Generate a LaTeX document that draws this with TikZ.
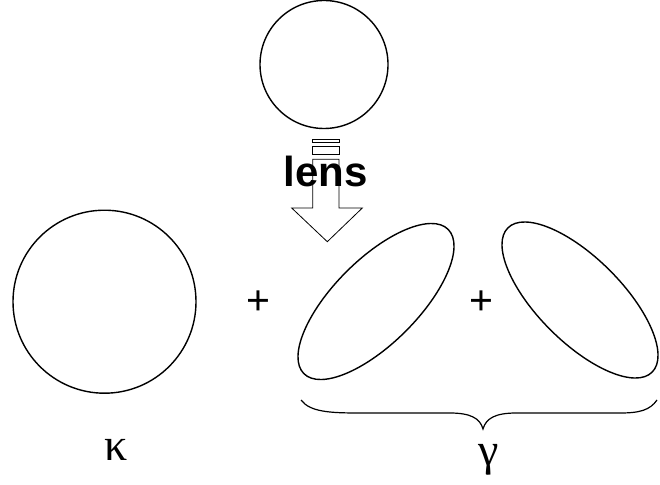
\documentclass[tikz,border=0pt]{standalone}
\usepackage{fontspec}
\setmainfont{Liberation Serif}
\newfontfamily\lensfont{Liberation Sans}
\usetikzlibrary{shapes.geometric}
\begin{document}
\begin{tikzpicture}[x=1pt,y=-1pt,
  shapeline/.style={draw=black,line width=1.4pt,inner sep=0pt},
  arrowline/.style={draw=black,line width=0.8pt},
  greek/.style={font=\fontsize{46}{46}\selectfont,inner sep=0pt},
  plus/.style={font=\lensfont\fontsize{41}{41}\selectfont,inner sep=0pt}]
\useasboundingbox[fill=white] (0,0) rectangle (660,484);
% source circle
\node[shapeline,circle,minimum size=128pt] (src) at (324,64.5) {};
% lens arrow
\draw[arrowline] (312.7,139.3) rectangle (339,142);
\draw[arrowline] (312.7,146) rectangle (339,154.3);
\draw[arrowline] (312.7,159.3) -- (312.7,208) -- (291.7,208) -- (327.3,241.7) -- (362.3,208) -- (339,208) -- (339,159.3) -- cycle;
\node[font=\lensfont\bfseries\fontsize{42}{42}\selectfont,anchor=base,inner sep=0pt] (lens) at (325.5,186) {lens};
% convergence circle
\node[shapeline,circle,minimum size=183pt] (kap) at (104.5,301.7) {};
% shear ellipses
\node[shapeline,ellipse,rotate=45,minimum width=204pt,minimum height=84pt] (g1) at (376,301.5) {};
\node[shapeline,ellipse,rotate=-45,minimum width=204pt,minimum height=84pt] (g2) at (580,300) {};
\node[plus] (p1) at (258,303) {+};
\node[plus] (p2) at (481.3,303) {+};
% brace
\draw[line width=1.2pt] (301,400) .. controls (310,412) and (330,413) .. (360,413) -- (450,413) .. controls (470,413) and (480,418) .. (483,429) .. controls (486,418) and (496,413) .. (516,413) -- (620,413) .. controls (640,413) and (650,410) .. (657,400);
\node[greek] (kl) at (116,450) {κ};
\node[greek] (gl) at (489,460) {γ};
\end{tikzpicture}
\end{document}
